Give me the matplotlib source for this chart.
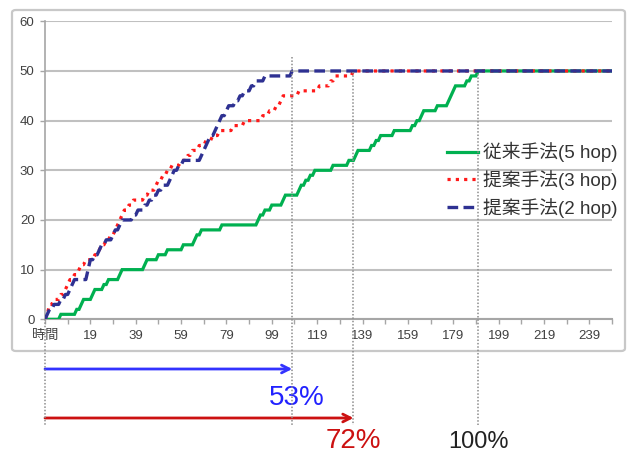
import numpy as np
import matplotlib
matplotlib.use("Agg")
import matplotlib.pyplot as plt
from matplotlib.lines import Line2D
from matplotlib.patches import FancyBboxPatch
import matplotlib.transforms as mtransforms

plt.rcParams['font.family'] = ['Liberation Sans', 'Noto Sans CJK JP', 'DejaVu Sans']

# time axis: first category is the header "時間", then 0, 1, 2, ...
N_STEPS = 251
tick_pos = list(range(0, 241, 20))
tick_labels = ['時間'] + [str(p - 1) for p in tick_pos[1:]]

# number of reached nodes, given as (index where the count changes, new count)
green_at = [7, 14, 16, 17, 21, 22, 26, 28, 33, 34, 44, 45, 50, 54, 61, 66, 67, 69, 78,
            94, 95, 97, 100, 105, 106, 112, 113, 115, 117, 119, 127, 134, 137, 138,
            144, 146, 148, 154, 162, 164, 166, 167, 173, 178, 179, 180, 181, 186, 188, 191]
green_level = list(range(1, 51))

red_at = [1, 2, 4, 7, 9, 10, 11, 13, 15, 16, 18, 22, 24, 25, 27, 29, 31, 32, 33, 34,
          35, 37, 39, 44, 46, 49, 50, 52, 54, 56, 60, 63, 65, 68, 71, 74, 77, 83, 88,
          96, 99, 102, 104, 105, 112, 121, 126, 128, 136]
red_level = [1] + list(range(3, 51))

blue_at = [1, 2, 4, 7, 9, 11, 12, 13, 19, 20, 22, 24, 25, 27, 30, 31, 33, 34, 39, 41,
           44, 46, 48, 50, 52, 55, 56, 57, 59, 61, 69, 70, 71, 72, 73, 75, 76, 77, 78,
           80, 81, 84, 86, 88, 91, 93, 97, 109]
blue_level = [1, 2, 3, 4, 5, 6, 7, 8, 10] + list(range(12, 51))

series_names = ['従来手法(5 hop)', '提案手法(3 hop)', '提案手法(2 hop)']
ratio_labels = ['53%', '72%', '100%']


def expand(at, level):
    vals = np.zeros(N_STEPS)
    for i, v in zip(at, level):
        vals[i:] = v
    return vals


x = np.arange(N_STEPS)
green = expand(green_at, green_level)
red = expand(red_at, red_level)
blue = expand(blue_at, blue_level)

W, H = 636, 455
fig = plt.figure(figsize=(W / 100, H / 100), dpi=100)

# outer chart frame
frame = FancyBboxPatch((12 / W, 1 - 351 / H), 613 / W, 341 / H,
                       boxstyle='round,pad=0,rounding_size=0.006',
                       transform=fig.transFigure, fc='none', ec='#c8c8c8', lw=1.6, zorder=0)
fig.patches.append(frame)

ax = fig.add_axes([45 / W, 1 - 319.3 / H, 567 / W, 298 / H])
ax.patch.set_alpha(0)

l_green, = ax.plot(x, green, color='#00b050', lw=2.3, solid_joinstyle='miter', zorder=3)
l_red, = ax.plot(x, red, color='#ff1a1a', lw=2.3, linestyle=(0, (1, 1.6)), zorder=4)
l_blue, = ax.plot(x, blue, color='#2e3192', lw=2.4, linestyle=(0, (3.2, 1.6)), zorder=5)

ax.set_xlim(0, N_STEPS - 1)
ax.set_ylim(0, 60)
ax.set_yticks(range(0, 61, 10))
ax.set_xticks(tick_pos)
ax.set_xticklabels(tick_labels)
ax.set_xticks(range(0, N_STEPS, 10), minor=True)
ax.grid(axis='y', color='#c0c0c0', lw=1.5)
ax.set_axisbelow(True)
for side in ['top', 'right']:
    ax.spines[side].set_visible(False)
ax.spines['left'].set_color('#a6a6a6')
ax.spines['bottom'].set_color('#a6a6a6')
ax.spines['left'].set_linewidth(1.2)
ax.spines['bottom'].set_linewidth(1.5)
ax.tick_params(axis='both', which='both', colors='#a6a6a6', labelcolor='#404040',
               labelsize=9.5, length=3.5, width=1)
ax.tick_params(axis='y', pad=4)
ax.tick_params(axis='x', pad=4)

ax.legend([l_green, l_red, l_blue], series_names, loc='upper left',
          bbox_to_anchor=(447 / W, 1 - 142 / H), bbox_transform=fig.transFigure,
          frameon=False, fontsize=13.5, handlelength=1.65, handletextpad=0.25,
          labelspacing=0.42, borderpad=0, borderaxespad=0, labelcolor='#333333')

# where each method first reaches all 50 nodes
reach = [int(np.argmax(s >= 50)) for s in (blue, red, green)]
trans = mtransforms.blended_transform_factory(ax.transData, fig.transFigure)


def fy(px):
    return 1 - px / H


dot = dict(color='#8c8c8c', lw=1.1, linestyle=(0, (1, 1.2)), transform=trans, clip_on=False)
fig.lines.append(Line2D([0, 0], [fy(319), fy(425)], **dot))
fig.lines.append(Line2D([reach[0], reach[0]], [fy(57), fy(425)], **dot))
fig.lines.append(Line2D([reach[1], reach[1]], [fy(72), fy(425)], **dot))
fig.lines.append(Line2D([reach[2], reach[2]], [fy(74), fy(425)], **dot))

ax.annotate('', xy=(reach[0], fy(369)), xytext=(0, fy(369)), xycoords=trans,
            textcoords=trans, annotation_clip=False,
            arrowprops=dict(arrowstyle='->,head_length=0.55,head_width=0.28',
                            color='#3333ff', lw=2, shrinkA=0, shrinkB=0))
ax.annotate('', xy=(reach[1], fy(418)), xytext=(0, fy(418)), xycoords=trans,
            textcoords=trans, annotation_clip=False,
            arrowprops=dict(arrowstyle='->,head_length=0.55,head_width=0.28',
                            color='#cc1111', lw=2, shrinkA=0, shrinkB=0))

ax.text(reach[0] + 2, fy(405), ratio_labels[0], transform=trans, ha='center',
        va='baseline', fontsize=20, color='#2222ff', clip_on=False)
ax.text(reach[1], fy(448), ratio_labels[1], transform=trans, ha='center',
        va='baseline', fontsize=20, color='#cc1111', clip_on=False)
ax.text(reach[2], fy(448), ratio_labels[2], transform=trans, ha='center',
        va='baseline', fontsize=17, color='#222222', clip_on=False)

fig.savefig('out.png', dpi=100, facecolor='white')
